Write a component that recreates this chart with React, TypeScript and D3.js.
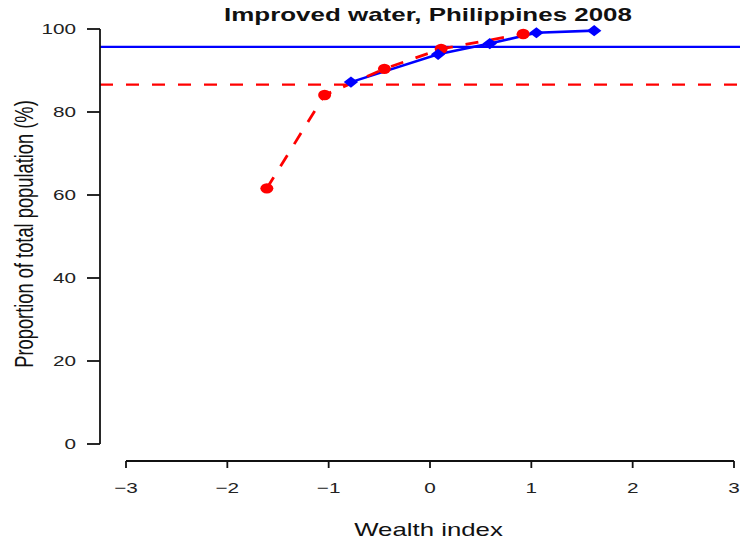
import React from "react";
import * as d3 from "d3";

const redX = [-1.61, -1.04, -0.45, 0.11, 0.92];
const redY = [61.6, 84.1, 90.4, 95.2, 98.8];
const blueX = [-0.78, 0.08, 0.59, 1.05, 1.62];
const blueY = [87.2, 93.9, 96.5, 99.1, 99.6];
const blueRef = 95.7;
const redRef = 86.6;
const xTicks = [-3, -2, -1, 0, 1, 2, 3];
const yTicks = [0, 20, 40, 60, 80, 100];
const title = "Improved water, Philippines 2008";
const xLabel = "Wealth index";
const yLabel = "Proportion of total population (%)";

const W = 740;
const H = 541;
const SX = 1.41;
const FONT = "'Liberation Sans', Arial, Helvetica, sans-serif";

export default function App() {
  const x = d3.scaleLinear().domain([-3, 3]).range([126, 734]);
  const y = d3.scaleLinear().domain([0, 100]).range([444, 29]);
  const plotLeft = 100;
  const xAxisY = 461;

  const redPts = redX.map((v, i) => [v, redY[i]] as [number, number]);
  const bluePts = blueX.map((v, i) => [v, blueY[i]] as [number, number]);
  const line = d3
    .line<[number, number]>()
    .x((d) => x(d[0]))
    .y((d) => y(d[1]));

  const fmt = (v: number) => (v < 0 ? "\u2212" + Math.abs(v) : String(v));

  return (
    <svg
      width={W}
      height={H}
      style={{ position: "absolute", left: 0, top: 0, background: "#fff" }}
      fontFamily={FONT}
    >
      <rect x={0} y={0} width={W} height={H} fill="#fff" />
      {/* reference lines */}
      <line x1={plotLeft} x2={W} y1={y(blueRef)} y2={y(blueRef)} stroke="#0000ff" strokeWidth={2.2} />
      <line
        x1={plotLeft}
        x2={W}
        y1={y(redRef)}
        y2={y(redRef)}
        stroke="#ff0000"
        strokeWidth={2.2}
        strokeDasharray="13,13"
      />
      {/* series lines */}
      <path d={line(bluePts) || ""} fill="none" stroke="#0000ff" strokeWidth={2.6} />
      <path d={line(redPts) || ""} fill="none" stroke="#ff0000" strokeWidth={2.8} strokeDasharray="13,13" />
      {/* red points */}
      {redPts.map((d, i) => (
        <ellipse key={"r" + i} cx={x(d[0])} cy={y(d[1])} rx={6.5} ry={5.2} fill="#ff0000" />
      ))}
      {/* blue diamonds */}
      {bluePts.map((d, i) => {
        const cx = x(d[0]);
        const cy = y(d[1]);
        const dx = 7.2;
        const dy = 5.6;
        return (
          <path
            key={"b" + i}
            d={`M${cx - dx},${cy}L${cx},${cy - dy}L${cx + dx},${cy}L${cx},${cy + dy}Z`}
            fill="#0000ff"
          />
        );
      })}
      {/* y axis */}
      <line x1={plotLeft} x2={plotLeft} y1={y(0)} y2={y(100)} stroke="#111" strokeWidth={1.8} />
      {yTicks.map((t) => (
        <g key={"yt" + t}>
          <line x1={87} x2={plotLeft} y1={y(t)} y2={y(t)} stroke="#111" strokeWidth={1.8} />
          <text
            transform={`translate(76,${y(t) + 5.3}) scale(1.4,1)`}
            textAnchor="end"
            fontSize={14.8}
            fill="#222"
          >
            {fmt(t)}
          </text>
        </g>
      ))}
      {/* x axis */}
      <line x1={x(-3)} x2={x(3)} y1={xAxisY} y2={xAxisY} stroke="#111" strokeWidth={1.8} />
      {xTicks.map((t) => (
        <g key={"xt" + t}>
          <line x1={x(t)} x2={x(t)} y1={xAxisY} y2={xAxisY + 7} stroke="#111" strokeWidth={1.8} />
          <text
            transform={`translate(${x(t)},493) scale(1.4,1)`}
            textAnchor="middle"
            fontSize={14.8}
            fill="#222"
          >
            {fmt(t)}
          </text>
        </g>
      ))}
      {/* title and labels */}
      <text
        transform={`translate(428,21) scale(${SX},1)`}
        textAnchor="middle"
        fontSize={18.4}
        fontWeight="bold"
        fill="#111"
      >
        {title}
      </text>
      <text transform={`translate(428.5,536) scale(${SX},1)`} textAnchor="middle" fontSize={18.3} fill="#111">
        {xLabel}
      </text>
      <text
        transform={`translate(33,234) scale(${SX},1) rotate(-90)`}
        textAnchor="middle"
        fontSize={18.3}
        fill="#111"
      >
        {yLabel}
      </text>
    </svg>
  );
}
